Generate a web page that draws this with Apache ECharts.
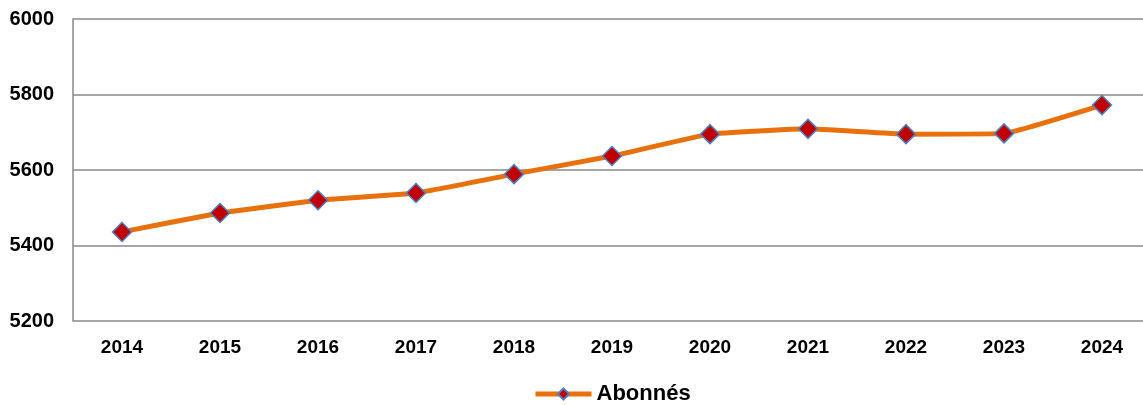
<!DOCTYPE html>
<html>
<head>
<meta charset="utf-8">
<script src="https://cdn.jsdelivr.net/npm/echarts@6/dist/echarts.min.js"></script>
<style>
  html, body { margin: 0; padding: 0; background: #fff; }
  #main { width: 1143px; height: 405px; }
</style>
</head>
<body>
<div id="main"></div>
<script>
  // 数据
  const years = ['2014','2015','2016','2017','2018','2019','2020','2021','2022','2023','2024']
  const abonnes = [5436, 5486, 5520, 5539, 5589, 5637, 5695, 5709, 5695, 5697, 5772]
  const seriesName = 'Abonnés'

  let myChart = echarts.init(document.getElementById('main'), null, {renderer: 'canvas'})

  let option = {
    animation: false,
    grid: {
      left: 73,
      width: 1078,
      top: 19,
      bottom: 84,
      outerBoundsMode: 'none', // 允许grid超出画布右边
    },
    legend: {
      top: 383,
      left: 533,
      padding: 0,
      itemWidth: 56,
      itemHeight: 14,
      itemGap: 4,
      lineStyle: { width: 5 },
      textStyle: {
        fontFamily: 'Liberation Sans, Arial',
        fontWeight: 'bold',
        fontSize: 22,
        color: '#000'
      },
      data: [seriesName]
    },
    xAxis: {
      type: 'category',
      data: years,
      boundaryGap: true,
      axisLine: { show: false },
      axisTick: { show: false },
      axisLabel: {
        margin: 17,
        fontFamily: 'Liberation Sans, Arial',
        fontWeight: 'bold',
        fontSize: 19,
        color: '#000'
      }
    },
    yAxis: {
      type: 'value',
      min: 5200,
      max: 6000,
      interval: 200,
      axisLine: { show: true, lineStyle: { color: '#888', width: 1.5 } },
      axisTick: { show: false },
      splitLine: { lineStyle: { color: '#888', width: 1.5 } },
      axisLabel: {
        margin: 19,
        formatter: (v) => String(v),
        fontFamily: 'Liberation Sans, Arial',
        fontWeight: 'bold',
        fontSize: 20,
        color: '#000'
      }
    },
    series: [
      {
        name: seriesName,
        type: 'line',
        data: abonnes,
        smooth: 0.1,
        symbol: 'diamond',
        symbolSize: 19,
        lineStyle: { color: '#E8710E', width: 5 },
        itemStyle: { color: '#C00000', borderColor: '#4F81BD', borderWidth: 1.5 },
      }
    ]
  }
  myChart.setOption(option)
</script>
</body>
</html>
